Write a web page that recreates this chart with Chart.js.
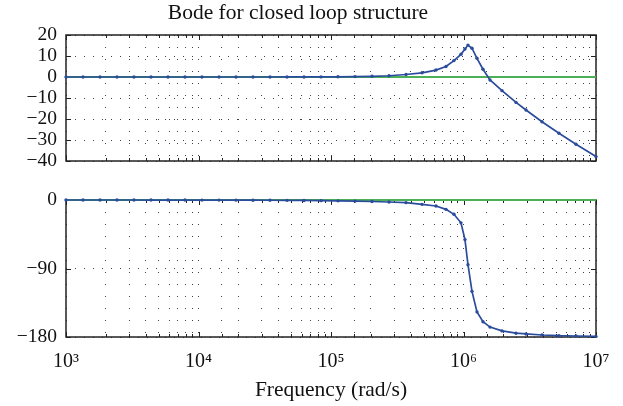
<!DOCTYPE html>
<html>
<head>
<meta charset="utf-8">
<script src="https://cdn.jsdelivr.net/npm/chart.js@4.4.1/dist/chart.umd.min.js"></script>
<style>
  html, body { margin: 0; padding: 0; background: #fff; }
  #wrap { position: relative; width: 623px; height: 406px; }
  #wrap canvas { position: absolute; left: 0; top: 0; }
</style>
</head>
<body>
<div id="wrap">
  <canvas id="magChart" width="623" height="406"></canvas>
  <canvas id="phaseChart" width="623" height="406"></canvas>
</div>
<script>
// frequency points (rad/s)
const freqs = [1000, 1343, 1805, 2425, 3258, 4380, 5885, 7907, 10620, 14280,
  19190, 25780, 34640, 46550, 62550, 84050, 112900, 151800, 203900, 274000,
  368200, 486400, 619900, 737500, 847000, 957000, 1026000, 1081000, 1159000, 1264000,
  1403000, 1585000, 1953000, 2491000, 2962000, 3912000, 5255000, 7063000, 10000000];

// magnitude (dB)
const magnitudeDb = [0, 0, 0, 0, 0, 0, 0, 0, 0, 0,
  0, 0.01, 0.01, 0.02, 0.03, 0.05, 0.1, 0.18, 0.33, 0.6,
  1.2, 2.0, 3.3, 5.0, 7.8, 10.8, 13.3, 15.2, 13.7, 8.9,
  3.7, -1.4, -6.5, -12.1, -15.7, -21.3, -26.8, -32.0, -37.9];

// phase (deg)
const phaseDeg = [0, 0, 0, -0.02, -0.03, -0.04, -0.05, -0.07, -0.1, -0.14,
  -0.19, -0.25, -0.34, -0.46, -0.62, -0.83, -1.1, -1.5, -2.0, -2.6,
  -3.5, -5.7, -7.9, -12.3, -18.8, -30, -52, -85, -120, -147,
  -160, -167, -172, -175, -176, -177.4, -178.3, -178.7, -179.2];

// flat reference trace (green)
const refFreqs = [1000, 10000000];
const refMag = [0, 0];
const refPhase = [0, 0];

const magTicks = [20, 10, 0, -10, -20, -30, -40];
const phaseTicks = [0, -90, -180];
const decadeTicks = [1000, 10000, 100000, 1000000, 10000000];
const decadeLabels = ['10\u00b3', '10\u2074', '10\u2075', '10\u2076', '10\u2077'];

const FONT = '"Liberation Serif", "Times New Roman", serif';
const BLUE = '#2b4c9c';
const GREEN = '#4cb057';

Chart.defaults.font.family = FONT;
Chart.defaults.color = '#111';

function pts(xs, ys) {
  return xs.map((x, i) => ({ x: x, y: ys[i] }));
}

function minus(v) {
  return String(v).replace('-', '\u2212');
}

// matlab style box with inward ticks
const frameTicks = {
  id: 'frameTicks',
  beforeDatasetsDraw(chart) {
    const { ctx, chartArea: a, scales } = chart;
    const x = scales.x, y = scales.y;
    ctx.save();
    ctx.strokeStyle = '#222';
    ctx.lineWidth = 1;
    ctx.beginPath();
    x.ticks.forEach(t => {
      const px = Math.round(x.getPixelForValue(t.value)) + 0.5;
      const dec = decadeTicks.includes(t.value);
      const len = dec ? 5 : 3;
      ctx.moveTo(px, a.bottom); ctx.lineTo(px, a.bottom - len);
      ctx.moveTo(px, a.top); ctx.lineTo(px, a.top + len);
    });
    y.ticks.forEach(t => {
      const py = Math.round(y.getPixelForValue(t.value)) + 0.5;
      ctx.moveTo(a.left, py); ctx.lineTo(a.left + 5, py);
      ctx.moveTo(a.right, py); ctx.lineTo(a.right - 5, py);
    });
    ctx.stroke();
    ctx.lineWidth = 1.5;
    ctx.strokeRect(a.left, a.top, a.right - a.left, a.bottom - a.top);
    ctx.restore();
  }
};

function xScale(showLabels) {
  return {
    type: 'logarithmic',
    min: 1000,
    max: 10000000,
    border: { display: false, dash: [1, 11] },
    grid: { color: 'rgba(0,0,0,0.75)', lineWidth: 1, drawTicks: false },
    ticks: {
      display: showLabels,
      autoSkip: false,
      maxRotation: 0,
      padding: 13,
      font: { size: 20 },
      callback: function(v) {
        const i = decadeTicks.indexOf(v);
        return i >= 0 ? decadeLabels[i] : '';
      }
    },
    title: {
      display: showLabels,
      text: 'Frequency (rad/s)',
      font: { size: 21.5 },
      padding: { top: 0, bottom: 3 }
    },
    afterFit: function(scale) {
      if (showLabels) scale.height = 69;
    }
  };
}

function yScale(ticks) {
  return {
    min: ticks[ticks.length - 1],
    max: ticks[0],
    border: { display: false, dash: [1, 8] },
    grid: { color: 'rgba(0,0,0,0.75)', lineWidth: 1, drawTicks: false },
    ticks: {
      padding: 9,
      autoSkip: false,
      font: { size: 19.5 },
      callback: v => minus(v)
    },
    afterBuildTicks: function(scale) {
      scale.ticks = ticks.map(v => ({ value: v }));
    },
    afterFit: function(scale) {
      scale.width = 66;
    }
  };
}

function datasets(ys, refYs) {
  return [
    {
      data: pts(freqs, ys),
      borderColor: BLUE,
      backgroundColor: BLUE,
      borderWidth: 1.7,
      pointRadius: 1.7,
      pointStyle: 'circle',
      pointBorderWidth: 0,
      tension: 0,
      clip: false
    },
    {
      data: pts(refFreqs, refYs),
      borderColor: GREEN,
      borderWidth: 2.2,
      pointRadius: 0,
      clip: false
    }
  ];
}

new Chart(document.getElementById('magChart'), {
  type: 'line',
  data: { datasets: datasets(magnitudeDb, refMag) },
  options: {
    responsive: false,
    animation: false,
    events: [],
    layout: { padding: { left: 0, right: 27, top: 0, bottom: 245 } },
    plugins: {
      legend: { display: false },
      tooltip: { enabled: false },
      title: {
        display: true,
        text: 'Bode for closed loop structure',
        color: '#111',
        font: { size: 21.5, weight: 'normal' },
        padding: { top: 0, bottom: 9.2 }
      }
    },
    scales: { x: xScale(false), y: yScale(magTicks) }
  },
  plugins: [frameTicks]
});

new Chart(document.getElementById('phaseChart'), {
  type: 'line',
  data: { datasets: datasets(phaseDeg, refPhase) },
  options: {
    responsive: false,
    animation: false,
    events: [],
    layout: { padding: { left: 0, right: 27, top: 200, bottom: 0 } },
    plugins: { legend: { display: false }, tooltip: { enabled: false } },
    scales: { x: xScale(true), y: yScale(phaseTicks) }
  },
  plugins: [frameTicks]
});
</script>
</body>
</html>
